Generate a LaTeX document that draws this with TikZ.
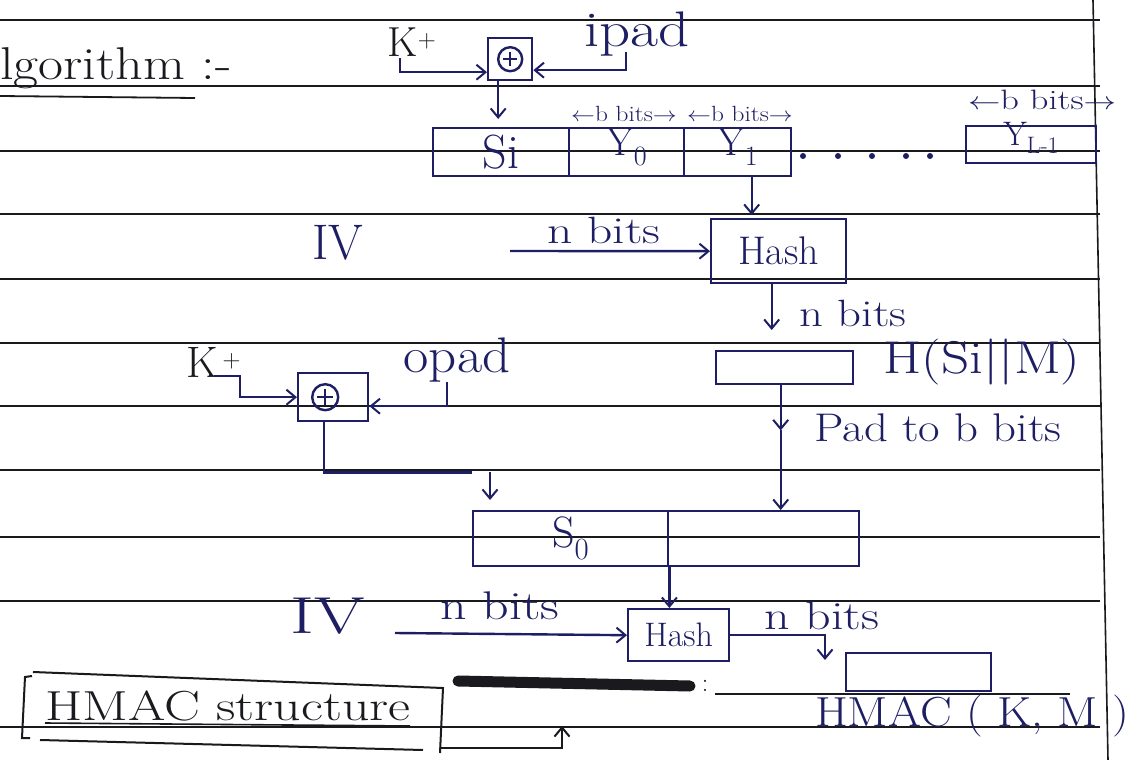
\documentclass[tikz,border=0pt]{standalone}
\usepackage{fontspec}
\usetikzlibrary{arrows.meta,calc}
\definecolor{ink}{RGB}{30,30,100}
\definecolor{rulec}{RGB}{25,25,30}
\newcommand{\wide}[2]{\scalebox{#1}[1]{#2}}
\tikzset{
  ruleline/.style={draw=rulec, line width=1.6pt},
  pen/.style={draw=ink, line width=2.4pt},
  arr/.style={pen, -{Straight Barb[length=9pt,width=15pt,line width=2pt]}},
  box/.style={pen, rectangle, inner sep=0pt, anchor=north west, text=ink},
  lbl/.style={text=ink, inner sep=0pt},
  fs/.style={font=\fontsize{#1}{#1}\selectfont},
}
\begin{document}
\begin{tikzpicture}[x=1pt,y=-1pt]
\fill[white] (0,0) rectangle (1144,760);
\useasboundingbox (0,0) rectangle (1144,760);
% notebook rules
\foreach \yy in {20,86,151,214,279,343,406,470,537,601,727}
  \draw[ruleline] (0,\yy) -- (1100,\yy);
\draw[ruleline] (1093,0) -- (1108,760);

% title
\node[lbl, fs=46, anchor=base west, text=rulec] (title) at (0,80) {\wide{1.18}{lgorithm :-}};
\draw[pen, draw=rulec, line width=1.8pt] (0,96) -- (195,98);

% ---- inner XOR ----
\node[box, minimum width=44pt, minimum height=42pt] (x1) at (487,37) {};
\node[pen, circle, minimum size=24pt, inner sep=0pt] (c1) at (x1.center) {};
\draw[pen, line width=1.8pt] ($(c1.center)+(0,-7)$) -- ($(c1.center)+(0,7)$)
  ($(c1.center)+(-7,0)$) -- ($(c1.center)+(7,0)$);
\node[lbl, fs=42, text=rulec] (k1) at (412,42) {K$^+$};
\coordinate (kp) at (400,58);
\draw[arr] (kp) |- ([yshift=-13pt]x1.west);
\node[lbl, fs=50] (ipad) at (637,34) {\wide{1.22}{ipad}};
\coordinate (ip) at (626,52);
\draw[arr] (ip) |- ([yshift=-11pt]x1.east);

% ---- inner row ----
\node[box, minimum width=136pt, minimum height=48pt, fs=48] (si) at (432,127) {Si};
\node[box, minimum width=115pt, minimum height=48pt] (y0) at (568,127) {};
\node[box, minimum width=107pt, minimum height=48pt] (y1) at (683,127) {};
\node[box, minimum width=130pt, minimum height=37pt] (yl) at (965,125) {};
\node[lbl, fs=40] (y0l) at ([yshift=5pt]y0.center) {Y\textsubscript{0}};
\node[lbl, fs=40] (y1l) at ([yshift=5pt]y1.center) {Y\textsubscript{1}};
\node[lbl, fs=34] (yll) at ([yshift=7pt]yl.center) {Y\textsubscript{L-1}};
\draw[arr, shorten >=8pt] ([xshift=-12pt]x1.south) -- ([xshift=-12pt]x1.south |- si.north);
\node[lbl, fs=22] (bb0) at (624,114) {\wide{1.15}{$\leftarrow$b bits$\rightarrow$}};
\node[lbl, fs=22] (bb1) at (740,114) {\wide{1.15}{$\leftarrow$b bits$\rightarrow$}};
\node[lbl, fs=28] (bbl) at (1042,100) {\wide{1.3}{$\leftarrow$b bits$\rightarrow$}};
\foreach \xx in {803,838,872,906,930}
  \fill[ink] (\xx,156) circle (3pt);

% ---- inner hash ----
\node[box, minimum width=135pt, minimum height=64pt, fs=40] (hash) at (710,218) {Hash};
\draw[arr, shorten >=3pt] ([xshift=14pt]y1.south) -- ([xshift=14pt]y1.south |- hash.north);
\node[lbl, fs=50] (iv1) at (338,243) {IV};
\coordinate (iv1s) at (510,251);
\draw[arr] (iv1s) -- (hash.west);
\node[lbl, fs=38] (nb1) at (604,230) {\wide{1.3}{n bits}};
\node[box, minimum width=137pt, minimum height=33pt] (hs) at (715,350) {};
\draw[arr, shorten >=20pt] ([xshift=-7pt]hash.south) -- ([xshift=-7pt]hash.south |- hs.north);
\node[lbl, fs=38] (nb2) at (853,313) {\wide{1.23}{n bits}};
\node[lbl, fs=46] (hsl) at (982,362) {\wide{1.2}{H(Si||M)}};

% ---- outer XOR ----
\node[box, minimum width=70pt, minimum height=48pt] (x2) at (297,372) {};
\node[pen, circle, minimum size=26pt, inner sep=0pt] (c2) at ([xshift=-8pt]x2.center) {};
\draw[pen, line width=1.8pt] ($(c2.center)+(0,-8)$) -- ($(c2.center)+(0,8)$)
  ($(c2.center)+(-8,0)$) -- ($(c2.center)+(8,0)$);
\node[lbl, fs=44, text=rulec] (k2) at (214,362) {K$^{\,+}$};
\coordinate (k2p) at (214,376);
\draw[arr] (k2p) -- ++(26,0) |- (x2.west);
\node[lbl, fs=50] (opad) at (457,360) {\wide{1.1}{opad}};
\coordinate (op) at (447,382);
\draw[arr] (op) |- ([yshift=-9pt]x2.east);

% ---- outer row ----
\node[box, minimum width=195pt, minimum height=55pt, fs=44] (so) at (472,510) {S\textsubscript{0}};
\node[box, minimum width=191pt, minimum height=55pt] (so2) at (667,510) {};
\draw[pen] ([xshift=-9pt]x2.south) -- ++(0,50) coordinate (xj) -- (xj -| so.north west);
\draw[arr, shorten >=10pt] ([xshift=18pt]so.north west |- xj) -- ([xshift=18pt]so.north west);
\coordinate (padmid) at ($(hs.south)+(-4,45)$);
\draw[arr] ([xshift=-4pt]hs.south) -- (padmid);
\draw[arr] (padmid) -- (padmid |- so2.north);
\node[lbl, fs=40] (padl) at (938,428) {\wide{1.17}{Pad to b bits}};

% ---- outer hash ----
\node[box, minimum width=101pt, minimum height=52pt, fs=34] (hash2) at (627,608) {Hash};
\draw[arr] (so.south east) -- (so.south east |- hash2.north);
\node[lbl, fs=52] (iv2) at (328,616) {\wide{1.4}{IV}};
\coordinate (iv2s) at (395,633);
\draw[arr] (iv2s) -- (hash2.west);
\node[lbl, fs=40] (nb3) at (500,606) {\wide{1.3}{n bits}};
\node[box, minimum width=145pt, minimum height=38pt] (out) at (845,652) {};
\draw[arr] (hash2.east) -| ([xshift=-20pt,yshift=-8pt]out.north west);
\node[lbl, fs=40] (nb4) at (822,616) {\wide{1.25}{n bits}};
\node[lbl, fs=42] (outl) at (972,716) {\wide{1.13}{HMAC ( K, M )}};

% ---- scribble ----
\draw[draw=rulec, line width=11pt, line cap=round] (458,681) -- (690,686);
\node[lbl, fs=26, text=rulec] (colon) at (705,686) {:};
\draw[pen, draw=rulec, line width=1.8pt] (715,694) -- (1070,694);

% ---- HMAC structure caption ----
\node[lbl, fs=42, text=rulec] (cap) at (228,706) {\wide{1.28}{HMAC structure}};
\draw[pen, draw=rulec, line width=2pt] (33,672) -- (443,688) -- (440,753);
\draw[pen, draw=rulec, line width=2pt] (32,676) -- (25,677) -- (22,738) -- (30,738);
\draw[pen, draw=rulec, line width=2pt] (40,740) -- (423,750);
\draw[pen, draw=rulec, line width=1.6pt] (45,723) -- (410,726);
\coordinate (capr) at (441,748);
\draw[arr, draw=rulec] (capr) -- ++(121,0) -- ++(0,-22);
\end{tikzpicture}
\end{document}
